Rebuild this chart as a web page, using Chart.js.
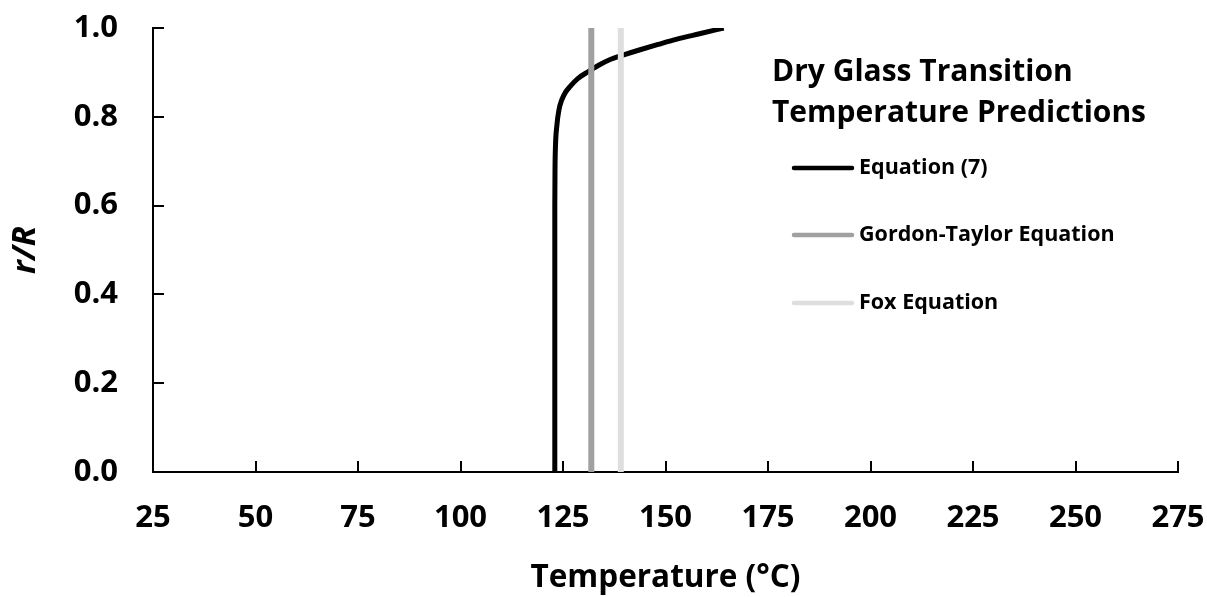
<!DOCTYPE html>
<html>
<head>
<meta charset="utf-8">
<script src="https://cdn.jsdelivr.net/npm/chart.js@4/dist/chart.umd.min.js"></script>
<style>
  html, body { margin: 0; padding: 0; background: #ffffff; }
  #wrap { width: 1207px; height: 597px; }
</style>
</head>
<body>
<div id="wrap"><canvas id="chart" width="1207" height="597"></canvas></div>
<script>
// Equation (7): radial position r/R versus temperature (°C)
const eq7Temperature = [123.0, 123.0, 123.0, 123.0, 123.05, 123.15, 123.5, 124.0, 124.7, 125.6, 126.7, 128.6, 131.2, 133.7, 136.5, 140.0, 143.8, 148.2, 152.8, 158.3, 164.2];
const eq7Ratio       = [0.0,   0.2,   0.4,   0.6,   0.68,   0.73,   0.78,  0.815, 0.838, 0.855, 0.868, 0.886, 0.902, 0.916, 0.929, 0.940, 0.951, 0.963, 0.975, 0.987, 1.0];

// Dry glass transition temperature predictions (°C)
const gordonTaylorTg = 131.9;
const foxTg = 139.1;

const seriesLabels = ['Equation (7)', 'Gordon-Taylor Equation', 'Fox Equation'];
const seriesColors = ['#000000', '#a0a0a0', '#dedede'];
const legendTitle = ['Dry Glass Transition', 'Temperature Predictions'];

const xTicks = [25, 50, 75, 100, 125, 150, 175, 200, 225, 250, 275];
const yTicks = [0.0, 0.2, 0.4, 0.6, 0.8, 1.0];
const xTitle = 'Temperature (°C)';
const yTitle = 'r/R';

const FONT = "'Open Sans', 'DejaVu Sans', sans-serif";

const eq7Points = eq7Temperature.map((t, i) => ({ x: t, y: eq7Ratio[i] }));
const verticalLine = (tg) => [{ x: tg, y: 0 }, { x: tg, y: 1 }];

// Keep the plot box fixed; tick labels may spill into the outer margin
function fixScale(scale, size) {
  if (scale.isHorizontal()) scale.height = size; else scale.width = size;
  scale.paddingTop = 0; scale.paddingBottom = 0;
  scale.paddingLeft = 0; scale.paddingRight = 0;
}

// Inward tick marks on both axes
const inwardTicks = {
  id: 'inwardTicks',
  afterDatasetsDraw(chart) {
    const { ctx, chartArea, scales } = chart;
    ctx.save();
    ctx.strokeStyle = '#000';
    ctx.lineWidth = 2;
    ctx.lineCap = 'butt';
    ctx.beginPath();
    xTicks.forEach(v => {
      const px = Math.round(scales.x.getPixelForValue(v));
      ctx.moveTo(px, chartArea.bottom);
      ctx.lineTo(px, chartArea.bottom - 11);
    });
    yTicks.forEach(v => {
      const py = Math.round(scales.y.getPixelForValue(v));
      ctx.moveTo(chartArea.left, py);
      ctx.lineTo(chartArea.left + 11, py);
    });
    ctx.stroke();
    ctx.restore();
  }
};

// Legend block with a two-line title inside the plot
const sideLegend = {
  id: 'sideLegend',
  afterDraw(chart) {
    const { ctx, chartArea } = chart;
    const x0 = chartArea.left + 619;
    ctx.save();
    ctx.fillStyle = '#000';
    ctx.textBaseline = 'middle';
    ctx.textAlign = 'left';
    ctx.font = "bold 30px " + FONT;
    ctx.fillText(legendTitle[0], x0, 72);
    ctx.fillText(legendTitle[1], x0, 113);
    const rows = [168, 235, 303];
    chart.data.datasets.slice().reverse().forEach((ds, i) => {
      const y = rows[i];
      ctx.strokeStyle = ds.borderColor;
      ctx.lineWidth = 4.5;
      ctx.lineCap = 'round';
      ctx.beginPath();
      ctx.moveTo(x0 + 22, y);
      ctx.lineTo(x0 + 80, y);
      ctx.stroke();
      ctx.font = "bold 21.5px " + FONT;
      ctx.fillText(ds.label, x0 + 87, y);
    });
    ctx.restore();
  }
};

new Chart(document.getElementById('chart'), {
  type: 'scatter',
  data: {
    datasets: [
      { label: seriesLabels[2], data: verticalLine(foxTg), borderColor: seriesColors[2], borderWidth: 6, showLine: true, pointRadius: 0 },
      { label: seriesLabels[1], data: verticalLine(gordonTaylorTg), borderColor: seriesColors[1], borderWidth: 6, showLine: true, pointRadius: 0 },
      { label: seriesLabels[0], data: eq7Points, borderColor: seriesColors[0], borderWidth: 5, showLine: true, pointRadius: 0, cubicInterpolationMode: 'monotone', borderCapStyle: 'butt' }
    ]
  },
  options: {
    responsive: false,
    animation: false,
    layout: { padding: { left: 0, top: 28, right: 29, bottom: 0 } },
    plugins: { legend: { display: false }, tooltip: { enabled: false } },
    scales: {
      x: {
        type: 'linear',
        min: 25, max: 275,
        afterBuildTicks(scale) { scale.ticks = xTicks.map(v => ({ value: v })); },
        afterFit(scale) { fixScale(scale, 125); },
        grid: { display: false, drawTicks: false },
        border: { display: true, color: '#000', width: 2 },
        ticks: { color: '#000', font: { family: FONT, size: 31, weight: 'bold' }, padding: 28, maxRotation: 0, autoSkip: false },
        title: { display: true, text: xTitle, color: '#000', font: { family: FONT, size: 31.5, weight: 'bold' }, padding: { top: 15, bottom: 0 } }
      },
      y: {
        type: 'linear',
        min: 0, max: 1,
        afterBuildTicks(scale) { scale.ticks = yTicks.map(v => ({ value: v })); },
        afterFit(scale) { fixScale(scale, 153); },
        grid: { display: false, drawTicks: false },
        border: { display: true, color: '#000', width: 2 },
        ticks: { color: '#000', font: { family: FONT, size: 31, weight: 'bold' }, padding: 35, callback: v => v.toFixed(1) },
        title: { display: true, text: yTitle, color: '#000', font: { family: FONT, size: 33, weight: 'bold', style: 'italic' }, padding: { top: 6, bottom: 0 } }
      }
    }
  },
  plugins: [inwardTicks, sideLegend]
});
</script>
</body>
</html>
